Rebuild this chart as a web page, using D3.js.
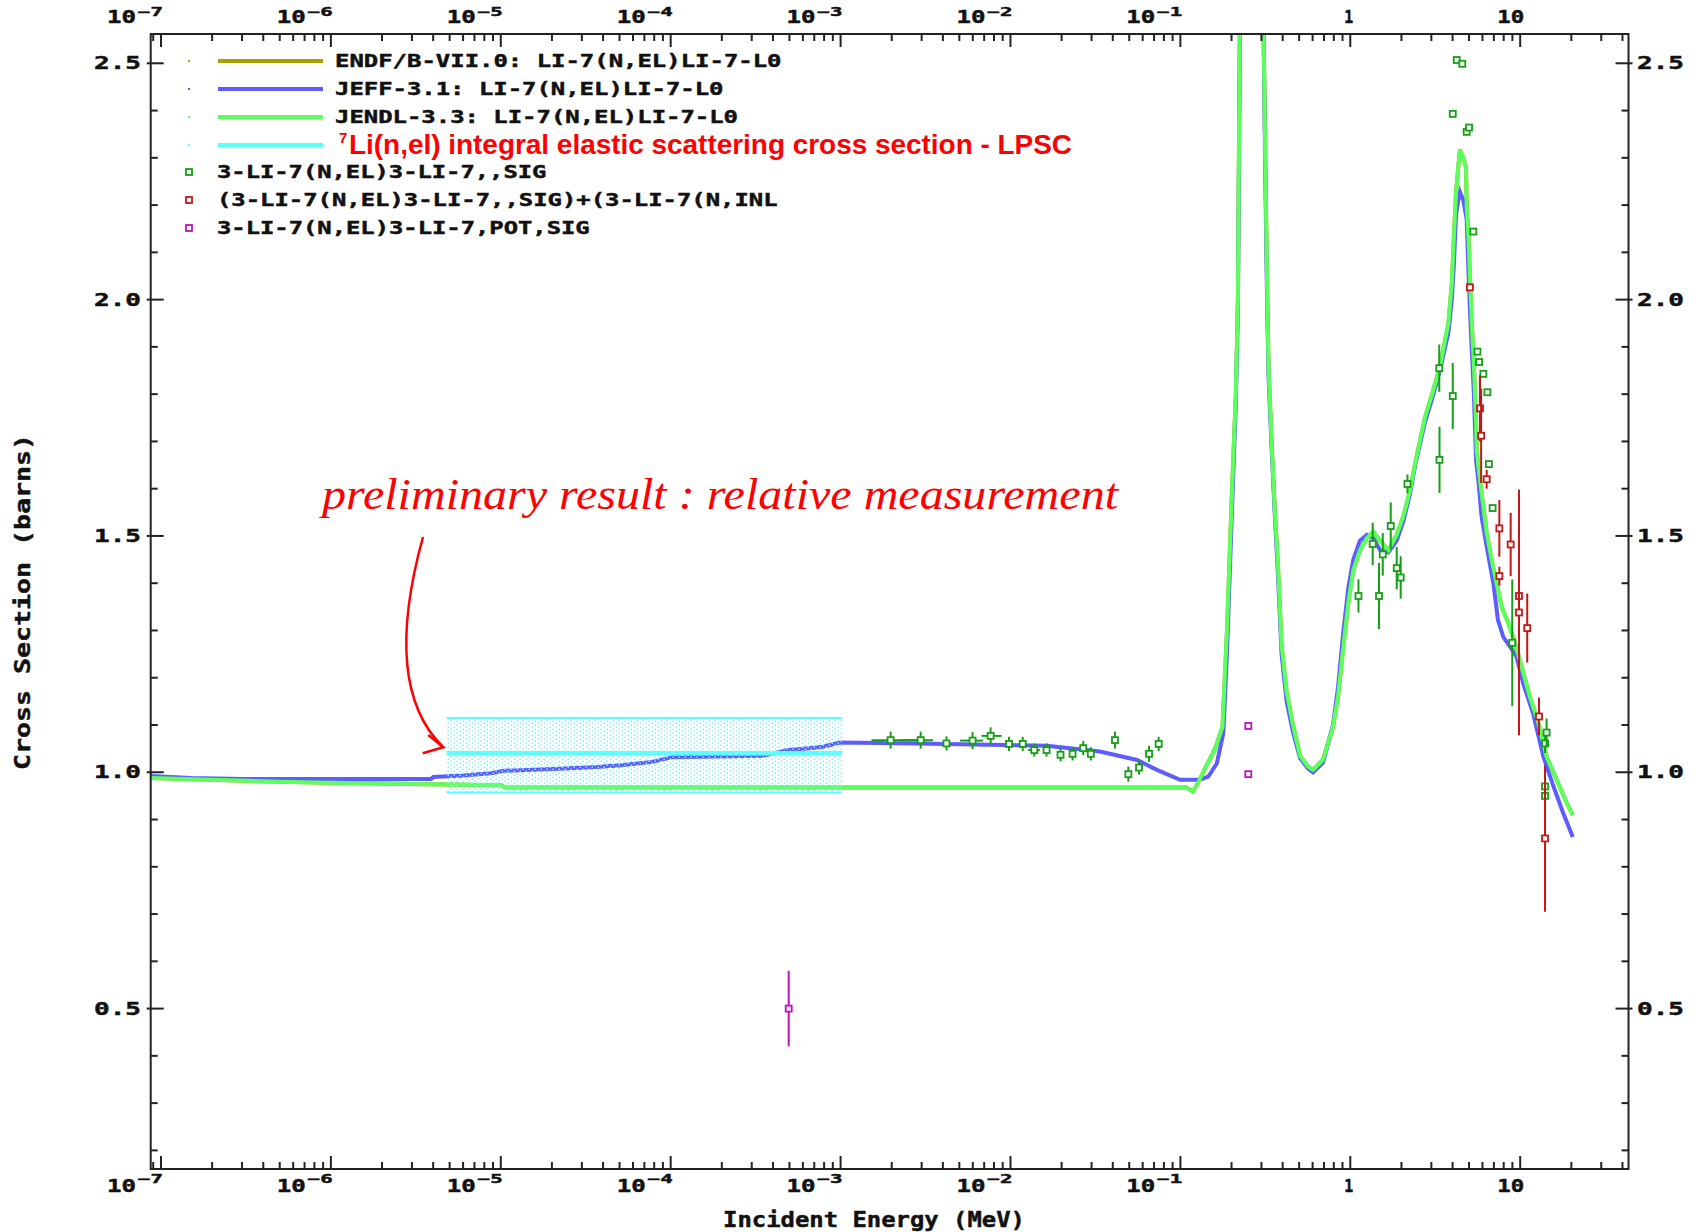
<!DOCTYPE html>
<html><head><meta charset="utf-8">
<script src="https://cdn.jsdelivr.net/npm/d3@7/dist/d3.min.js"></script>
<style>body{margin:0;background:#fff}svg{display:block}</style>
</head><body>
<svg id="chart" width="1701" height="1232"></svg>
<script>
// ---------------- data ----------------
const xTickExps = [-7, -6, -5, -4, -3, -2, -1, 0, 1];
const yTickValues = [0.5, 1.0, 1.5, 2.0, 2.5];
const yTickLabels = ["0.5", "1.0", "1.5", "2.0", "2.5"];

// JEFF-3.1 evaluated curve [E (MeV), sigma (b)]
const jeff31 = [
  [8.7e-8,0.992],[1.5e-7,0.988],[3e-7,0.986],[3.9e-6,0.986],[4.0e-6,0.990],[6.0e-6,0.993],
  [8.75e-6,0.998],[1.04e-5,1.003],[2.39e-5,1.008],[3.66e-5,1.011],[5.1e-5,1.015],[7.8e-5,1.022],
  [1.02e-4,1.032],[3.5e-4,1.035],[4.9e-4,1.047],[6.6e-4,1.051],[7.9e-4,1.054],[9.9e-4,1.063],
  [2.8e-3,1.061],[1.64e-2,1.056],[3.36e-2,1.044],[5.56e-2,1.026],[7.28e-2,1.005],[9.95e-2,0.984],
  [0.130,0.984],[0.146,0.991],[0.164,1.019],[0.179,1.083],[0.188,1.25],[0.201,1.55],[0.212,1.78],
  [0.218,1.98],[0.224,2.55],[0.24,6.0],[0.26,10.0],[0.285,6.0],[0.308,2.6],[0.315,2.30],[0.322,2.05],
  [0.33,1.84],[0.344,1.69],[0.36,1.54],[0.375,1.42],[0.394,1.25],[0.422,1.15],[0.46,1.085],
  [0.506,1.03],[0.564,1.008],[0.604,1.0],[0.69,1.02],[0.791,1.10],[0.847,1.18],[0.906,1.29],
  [0.973,1.39],[1.042,1.45],[1.14,1.49],[1.25,1.502],[1.367,1.495],[1.497,1.47],[1.676,1.465],
  [1.876,1.49],[2.05,1.53],[2.25,1.59],[2.41,1.65],[2.75,1.74],[3.03,1.79],[3.37,1.85],[3.78,1.93],
  [3.96,2.0],[4.08,2.08],[4.19,2.18],[4.32,2.21],[4.42,2.228],[4.63,2.21],[4.84,2.17],[4.95,2.07],
  [5.06,1.98],[5.18,1.90],[5.34,1.80],[5.5,1.66],[5.7,1.61],[5.93,1.54],[6.35,1.478],[6.95,1.40],
  [7.4,1.322],[7.96,1.286],[8.71,1.266],[9.53,1.244],[10.4,1.189],[11.9,1.125],[13.7,1.033],
  [15.7,0.97],[17.9,0.914],[20.4,0.863]
];

// JENDL-3.3 evaluated curve [E (MeV), sigma (b)]
const jendl33 = [
  [8.7e-8,0.988],[2e-7,0.984],[5e-7,0.980],[1e-6,0.978],[3e-6,0.975],[1.0e-5,0.9725],[1.06e-5,0.968],
  [1e-4,0.968],[1e-3,0.968],[1e-2,0.968],[0.1087,0.968],[0.1186,0.959],[0.13,0.985],[0.145,1.02],
  [0.16,1.05],[0.177,1.096],[0.188,1.30],[0.201,1.59],[0.212,1.80],[0.218,2.0],[0.224,2.6],
  [0.24,6.0],[0.26,10.0],[0.285,6.0],[0.308,2.6],[0.315,2.34],[0.322,2.09],[0.33,1.86],[0.344,1.70],
  [0.36,1.55],[0.375,1.44],[0.394,1.27],[0.422,1.17],[0.46,1.10],[0.506,1.035],[0.564,1.012],
  [0.604,1.005],[0.69,1.026],[0.791,1.096],[0.847,1.16],[0.906,1.259],[0.973,1.358],[1.042,1.428],
  [1.14,1.47],[1.25,1.495],[1.367,1.509],[1.497,1.49],[1.676,1.47],[1.876,1.502],[2.05,1.541],
  [2.25,1.597],[2.41,1.654],[2.75,1.75],[3.03,1.80],[3.37,1.858],[3.78,1.95],[3.96,2.035],[4.08,2.14],
  [4.19,2.225],[4.32,2.28],[4.42,2.317],[4.63,2.30],[4.80,2.28],[4.84,2.20],[4.95,2.14],[5.06,2.05],
  [5.18,1.957],[5.34,1.86],[5.49,1.75],[5.55,1.68],[5.75,1.63],[5.93,1.59],[6.35,1.506],[6.80,1.449],
  [7.27,1.40],[7.78,1.35],[8.51,1.316],[9.33,1.273],[10.2,1.223],[11.4,1.16],[12.8,1.104],
  [14.3,1.033],[16.4,0.984],[18.8,0.935],[20.4,0.91]
];

// ENDF/B-VII.0: not visible in the picture, it lies beneath the JENDL-3.3 curve
const endfb70 = jendl33;

// LPSC integral measurement [Emin, Emax, value, lower, upper]
const lpsc = [[4.8e-6, 1.02e-3, 1.04, 0.957, 1.115]];

// EXFOR 3-LI-7(N,EL)3-LI-7,,SIG  [E, sigma, dSigma, Elo, Ehi]
const exforSig = [
  [1.97e-3,1.068,0.018,1.52e-3,2.86e-3],[2.96e-3,1.068,0.018,2.24e-3,3.5e-3],[4.2e-3,1.061,0.015,null,null],
  [5.98e-3,1.067,0.018,5.05e-3,6.9e-3],[7.64e-3,1.077,0.018,6.76e-3,8.87e-3],[9.8e-3,1.06,0.015,null,null],
  [1.18e-2,1.06,0.015,null,null],[1.38e-2,1.047,0.014,1.27e-2,1.49e-2],[1.63e-2,1.047,0.014,null,null],
  [1.97e-2,1.037,0.014,null,null],[2.32e-2,1.039,0.014,null,null],[2.68e-2,1.051,0.015,null,null],
  [2.97e-2,1.039,0.014,null,null],[4.12e-2,1.068,0.018,null,null],[4.94e-2,0.996,0.016,null,null],
  [5.71e-2,1.010,0.015,null,null],[6.54e-2,1.039,0.017,null,null],[7.45e-2,1.060,0.015,null,null],
  [1.117,1.373,0.035,null,null],[1.355,1.483,0.045,null,null],[1.476,1.373,0.07,null,null],
  [1.553,1.461,0.045,null,null],[1.73,1.521,0.05,null,null],[1.876,1.432,0.045,null,null],
  [1.98,1.412,0.045,null,null],[2.17,1.61,0.02,null,null],[3.34,1.855,0.05,null,null],
  [3.35,1.661,0.07,null,null],[4.01,1.796,0.07,null,null],[4.01,2.393,0,null,null],
  [4.23,2.507,0,null,null],[4.56,2.499,0,null,null],[4.84,2.355,0,null,null],[5.0,2.364,0,null,null],
  [5.3,2.144,0,null,null],[5.6,1.89,0,null,null],[5.73,1.868,0,null,null],[6.07,1.843,0,null,null],
  [6.41,1.804,0,null,null],[6.54,1.652,0,null,null],[6.88,1.559,0,null,null],[8.98,1.274,0.134,null,null],
  [14.0,1.061,0.02,null,null],[14.3,1.084,0.03,null,null],[14.0,0.970,0.02,null,null],[14.0,0.950,0.02,null,null]
];

// EXFOR (SIG)+(INL)  [E, sigma, dSigma]
const exforSigInl = [
  [5.06,2.026,0],[5.8,1.77,0.07],[5.89,1.712,0.1],[6.35,1.62,0.02],[7.54,1.516,0.06],[7.54,1.415,0.02],
  [8.79,1.482,0.067],[9.84,1.373,0.08],[9.84,1.338,0.26],[11.0,1.305,0.073],[12.9,1.118,0.04],[14.0,0.86,0.155]
];

// EXFOR POT,SIG  [E, sigma, dSigma]
const exforPot = [[4.95e-4,0.5,0.08],[0.251,1.098,0],[0.251,0.996,0]];

const legendLines = [
  {label:"ENDF/B-VII.0: LI-7(N,EL)LI-7-L0", color:"#aba000"},
  {label:"JEFF-3.1: LI-7(N,EL)LI-7-L0", color:"#5c5cff"},
  {label:"JENDL-3.3: LI-7(N,EL)LI-7-L0", color:"#5cff5c"},
  {label:"Li(n,el) integral elastic scattering cross section - LPSC", color:"#5cffff", red:true}
];
const legendMarks = [
  {label:"3-LI-7(N,EL)3-LI-7,,SIG", color:"#14a014"},
  {label:"(3-LI-7(N,EL)3-LI-7,,SIG)+(3-LI-7(N,INL", color:"#c41818"},
  {label:"3-LI-7(N,EL)3-LI-7,POT,SIG", color:"#c010c0"}
];

// ---------------- drawing ----------------
const X0 = 150.7, X1 = 1628.5, Y0 = 34, Y1 = 1169;
const x = d3.scaleLog().domain([8.7e-8, 43.4]).range([X0, X1]);
const y = d3.scaleLinear().domain([0.1606, 2.562]).range([Y1, Y0]);
const svg = d3.select("#chart");
const MONO = "'DejaVu Sans Mono', 'Liberation Mono', monospace";

const defs = svg.append("defs");
defs.append("clipPath").attr("id","plotclip").append("rect")
  .attr("x",X0).attr("y",Y0).attr("width",X1-X0).attr("height",Y1-Y0);
const pat = defs.append("pattern").attr("id","dots").attr("patternUnits","userSpaceOnUse")
  .attr("width",6).attr("height",4);
pat.append("rect").attr("x",0.5).attr("y",0.5).attr("width",1.5).attr("height",1.5).attr("fill","#66ffff");
pat.append("rect").attr("x",3.5).attr("y",2.5).attr("width",1.5).attr("height",1.5).attr("fill","#66ffff");

function btext(g, str, px, py, anchor, size, len) {
  const t = g.append("text").attr("x",px).attr("y",py).attr("text-anchor",anchor)
    .attr("font-family",MONO).attr("font-weight","bold").attr("font-size",size)
    .attr("fill","#111").attr("stroke","#111").attr("stroke-width",0.45).text(str);
  if (len) t.attr("textLength",len).attr("lengthAdjust","spacingAndGlyphs");
  return t;
}

const plot = svg.append("g").attr("clip-path","url(#plotclip)");
const line = d3.line().x(d => x(d[0])).y(d => y(d[1]));

plot.append("path").datum(endfb70).attr("d",line).attr("fill","none").attr("stroke","#aba000").attr("stroke-width",4);
plot.append("path").datum(jeff31).attr("d",line).attr("fill","none").attr("stroke","#5c5cff").attr("stroke-width",4);
plot.append("path").datum(jendl33).attr("d",line).attr("fill","none").attr("stroke","#5cff5c").attr("stroke-width",4);

// LPSC band
lpsc.forEach(d => {
  const [e0,e1,v,lo,hi] = d;
  plot.append("rect").attr("x",x(e0)).attr("width",x(e1)-x(e0))
    .attr("y",y(hi)).attr("height",y(lo)-y(hi)).attr("fill","url(#dots)");
  plot.append("line").attr("x1",x(e0)).attr("x2",x(e1)).attr("y1",y(hi)).attr("y2",y(hi))
    .attr("stroke","#5cffff").attr("stroke-width",2);
  plot.append("line").attr("x1",x(e0)).attr("x2",x(e1)).attr("y1",y(lo)).attr("y2",y(lo))
    .attr("stroke","#5cffff").attr("stroke-width",2);
  plot.append("line").attr("x1",x(e0)).attr("x2",x(e1)).attr("y1",y(v)).attr("y2",y(v))
    .attr("stroke","#5cffff").attr("stroke-width",4.5);
});

function drawPoints(data, color) {
  const g = plot.append("g");
  data.forEach(d => {
    const [e,v,dv,elo,ehi] = d;
    if (dv > 0) g.append("line").attr("x1",x(e)).attr("x2",x(e)).attr("y1",y(v-dv)).attr("y2",y(v+dv))
      .attr("stroke",color).attr("stroke-width",2);
    if (elo != null) g.append("line").attr("x1",x(elo)).attr("x2",x(ehi)).attr("y1",y(v)).attr("y2",y(v))
      .attr("stroke",color).attr("stroke-width",2);
    g.append("rect").attr("x",x(e)-3).attr("y",y(v)-3).attr("width",6).attr("height",6)
      .attr("fill","#fff").attr("stroke",color).attr("stroke-width",1.8);
  });
}
drawPoints(exforSig, "#14a014");
drawPoints(exforSigInl, "#c41818");
drawPoints(exforPot, "#c010c0");

// frame
const axes = svg.append("g");
axes.append("rect").attr("x",X0).attr("y",Y0).attr("width",X1-X0).attr("height",Y1-Y0)
  .attr("fill","none").attr("stroke","#222").attr("stroke-width",2);

// x ticks
const [dmin, dmax] = x.domain();
for (let dec = -8; dec <= 1; dec++) {
  for (let m = 1; m <= 9; m++) {
    const v = m * Math.pow(10, dec);
    if (v < dmin || v > dmax) continue;
    const px = x(v), len = m === 1 ? 13 : 7;
    axes.append("line").attr("x1",px).attr("x2",px).attr("y1",Y1).attr("y2",Y1-len).attr("stroke","#222").attr("stroke-width",2);
    axes.append("line").attr("x1",px).attr("x2",px).attr("y1",Y0).attr("y2",Y0+len).attr("stroke","#222").attr("stroke-width",2);
  }
}
// y ticks
for (let k = 2; k <= 25; k++) {
  const v = k / 10, major = k % 5 === 0, len = major ? 13 : 7, py = y(v);
  axes.append("line").attr("x1",X0-(major?4:0)).attr("x2",X0+len).attr("y1",py).attr("y2",py).attr("stroke","#222").attr("stroke-width",2);
  axes.append("line").attr("x1",X1+(major?4:0)).attr("x2",X1-len).attr("y1",py).attr("y2",py).attr("stroke","#222").attr("stroke-width",2);
}

// x tick labels (bottom and top)
xTickExps.forEach(ex => {
  const px = x(Math.pow(10, ex));
  [[1192, 1183], [23, 16]].forEach(([base, supBase]) => {
    if (ex === 0) btext(axes, "1", px+3, base, "end", 17, 9);
    else if (ex === 1) btext(axes, "10", px+4, base, "end", 17, 27);
    else {
      btext(axes, "10", px-25, base, "end", 17, 29);
      btext(axes, "\u2212" + Math.abs(ex), px+2, supBase, "end", 11.5, 25);
    }
  });
});
// y tick labels
yTickValues.forEach((v, i) => {
  btext(axes, yTickLabels[i], 141, y(v)+6, "end", 17, 47);
  btext(axes, yTickLabels[i], 1637, y(v)+6, "start", 17, 47);
});

// axis titles
btext(axes, "Incident Energy (MeV)", 874, 1227, "middle", 21, 302);
btext(axes, "Cross Section (barns)", 0, 0, "middle", 21, 336).attr("transform","translate(30,602) rotate(-90)");

// legend
const leg = svg.append("g");
legendLines.forEach((d, i) => {
  const ly = 61 + i * 28;
  leg.append("rect").attr("x",188).attr("y",ly-1).attr("width",2).attr("height",2).attr("fill",d.color);
  leg.append("line").attr("x1",218).attr("x2",323).attr("y1",ly).attr("y2",ly).attr("stroke",d.color).attr("stroke-width",4);
  if (d.red) {
    leg.append("text").attr("x",339).attr("y",ly-2).attr("font-family","'Liberation Sans', Arial, sans-serif")
      .attr("font-weight","bold").attr("font-size",15).attr("fill","#ff0000").text("7");
    leg.append("text").attr("x",349).attr("y",ly+9).attr("font-family","'Liberation Sans', Arial, sans-serif")
      .attr("font-weight","bold").attr("font-size",28).attr("fill","#ff0000")
      .attr("textLength",723).attr("lengthAdjust","spacingAndGlyphs").text(d.label);
  } else {
    btext(leg, d.label, 335, ly+6, "start", 17, d.label.length*14.5-3);
  }
});
legendMarks.forEach((d, i) => {
  const ly = 172 + i * 28;
  leg.append("rect").attr("x",186).attr("y",ly-3).attr("width",6).attr("height",6)
    .attr("fill","#fff").attr("stroke",d.color).attr("stroke-width",1.8);
  btext(leg, d.label, 217, ly+6, "start", 17, d.label.length*14.45-3);
});

// annotation
const ann = svg.append("g");
ann.append("text").attr("x",322).attr("y",509).attr("font-family","'Liberation Serif', 'Times New Roman', serif")
  .attr("font-style","italic").attr("font-size",45).attr("fill","#ff0000")
  .attr("textLength",796).attr("lengthAdjust","spacingAndGlyphs")
  .text("preliminary result : relative measurement");
ann.append("path").attr("d","M423,537 C400,620 395,700 443,747").attr("fill","none").attr("stroke","#ff0000").attr("stroke-width",2.5);
ann.append("path").attr("d","M428.3,735 L443.3,747.3 L422.7,753.3").attr("fill","none").attr("stroke","#ff0000").attr("stroke-width",2.5);
</script>
</body></html>
